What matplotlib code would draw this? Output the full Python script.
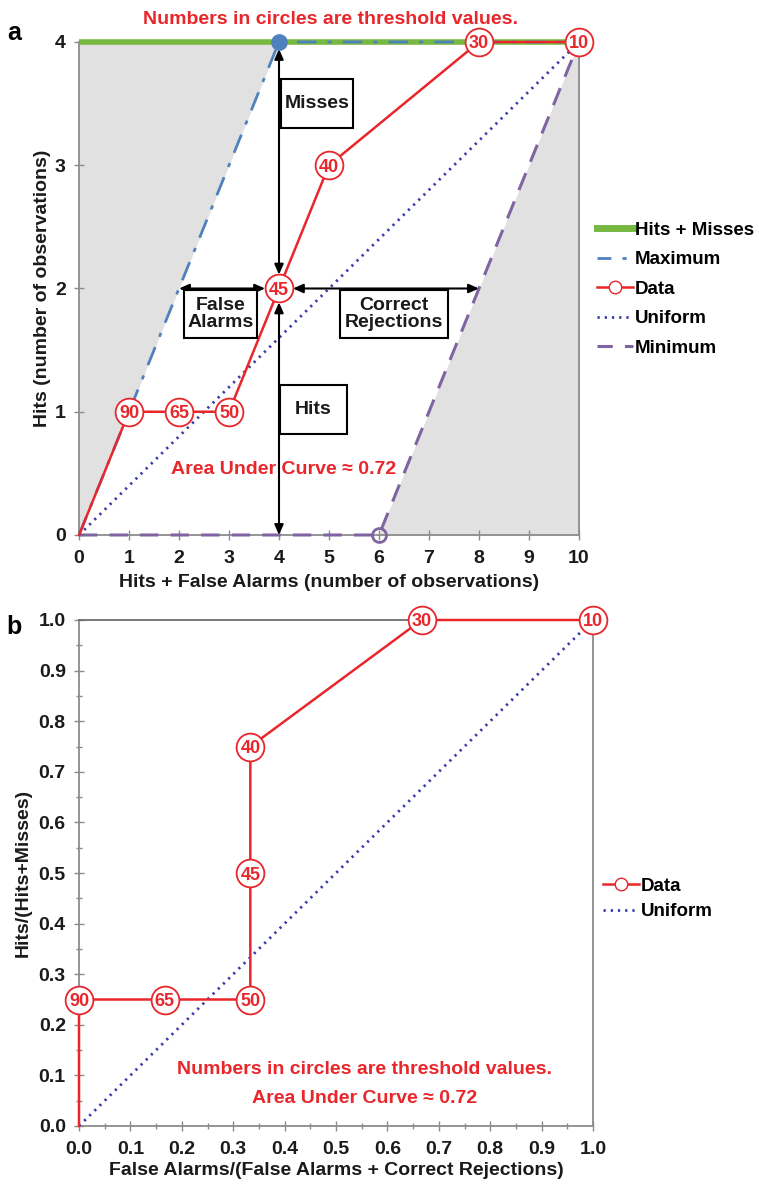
import matplotlib
matplotlib.use("Agg")
import matplotlib.pyplot as plt
from matplotlib.lines import Line2D
from matplotlib.patches import Rectangle
import numpy as np

plt.rcParams['font.family'] = ['Liberation Sans', 'DejaVu Sans']
plt.rcParams['font.weight'] = 'bold'

# ---------------- data ----------------
thresholds = [90, 65, 50, 45, 40, 30, 10]
hits = [1, 1, 1, 2, 3, 4, 4]
false_alarms = [0, 1, 2, 2, 2, 4, 6]
n_pos = 4          # hits + misses
n_neg = 6          # false alarms + correct rejections

max_x = [0, 4, 10]
max_y = [0, 4, 4]
min_x = [0, 6, 10]
min_y = [0, 0, 4]
uni_x = [0, 10]
uni_y = [0, 4]

top_xticks = list(range(0, 11))
top_yticks = [0, 1, 2, 3, 4]
bot_ticks = [round(0.1 * i, 1) for i in range(11)]

RED = '#E8262B'
GREEN = '#77B843'
BLUE = '#4F81BD'
NAVY = '#3A3AAA'
PURPLE = '#8064A2'
GRAYFILL = '#E1E1E1'
SPINE = '#8C8C8C'
TXT = '#1A1A1A'

FS = 14       # main text size
NUM_FS = 13   # numbers in circles
MS = 20       # circle marker size

W, H = 759, 1188
fig = plt.figure(figsize=(W / 100, H / 100), dpi=100)


def fx(px):
    return px / W


def fy(py):
    return 1 - py / H


# ---------------- panel a ----------------
ax = fig.add_axes([fx(79), fy(535), fx(579) - fx(79), fy(42) - fy(535)])
ax.set_xlim(0, 10)
ax.set_ylim(0, 4)

x_top = [h + f for h, f in zip(hits, false_alarms)]

ax.fill_between(max_x[:2], max_y[:2], [4, 4], color=GRAYFILL, lw=0, zorder=0)
ax.fill_between(min_x[1:], min_y[1:], [0, 0], color=GRAYFILL, lw=0, zorder=0)

ax.plot([0, 10], [n_pos, n_pos], color=GREEN, lw=4, zorder=2, clip_on=False,
        solid_capstyle='butt')
ax.plot(max_x, max_y, color=BLUE, lw=2, ls=(0, (7, 4, 1.5, 4)), zorder=3, clip_on=False)
ax.plot(min_x, min_y, color=PURPLE, lw=2.2, ls=(0, (6, 4)), zorder=3, clip_on=False)
ax.plot(uni_x, uni_y, color=NAVY, lw=2, ls=(0, (0.8, 1.8)), zorder=3)
ax.plot([0] + x_top, [0] + hits, color=RED, lw=1.8, zorder=4, clip_on=False)
ax.plot(x_top, hits, ls='none', marker='o', ms=MS, mfc='white', mec=RED, mew=1.3,
        zorder=5, clip_on=False)
for xv, yv, t in zip(x_top, hits, thresholds):
    ax.text(xv, yv, str(t), color=RED, fontsize=NUM_FS, fontweight='bold',
            ha='center', va='center_baseline', zorder=6)

ax.plot([4], [4], marker='o', ms=11, color=BLUE, zorder=6, clip_on=False)
ax.plot([6], [0], marker='o', ms=10, mfc='none', mec=PURPLE, mew=2, zorder=6, clip_on=False)

# arrows
arrow_kw = dict(arrowstyle='<|-|>,head_length=0.5,head_width=0.22', color='black',
                lw=1.5, mutation_scale=12)
ax.annotate('', xy=(4, 4), xytext=(4, 2),
            arrowprops=dict(**arrow_kw, shrinkA=10, shrinkB=5), zorder=4)
ax.annotate('', xy=(4, 0), xytext=(4, 2),
            arrowprops=dict(**arrow_kw, shrinkA=10, shrinkB=0), zorder=4)
ax.annotate('', xy=(2, 2), xytext=(4, 2),
            arrowprops=dict(**arrow_kw, shrinkA=10, shrinkB=0), zorder=4)
ax.annotate('', xy=(8, 2), xytext=(4, 2),
            arrowprops=dict(**arrow_kw, shrinkA=10, shrinkB=0), zorder=4)

boxes = [
    ('Misses', 4.04, 3.30, 5.48, 3.70),
    ('Hits', 4.02, 0.82, 5.36, 1.22),
    ('False\nAlarms', 2.10, 1.60, 3.56, 1.99),
    ('Correct\nRejections', 5.22, 1.60, 7.37, 1.99),
]
for label, x0, y0, x1, y1 in boxes:
    ax.add_patch(Rectangle((x0, y0), x1 - x0, y1 - y0, facecolor='white',
                           edgecolor='black', lw=1.5, zorder=7))
    ax.text((x0 + x1) / 2, (y0 + y1) / 2, label, ha='center', va='center',
            fontsize=FS, fontweight='bold', color=TXT, zorder=8, linespacing=1.0)

ax.text(4.1, 0.53, 'Area Under Curve \u2248 0.72', color=RED, fontsize=FS,
        fontweight='bold', ha='center', va='center', zorder=8)
ax.text(5.03, 4.18, 'Numbers in circles are threshold values.', color=RED,
        fontsize=FS, fontweight='bold', ha='center', va='center')

ax.set_xticks(top_xticks)
ax.set_yticks(top_yticks)
ax.tick_params(axis='x', direction='inout', length=7, width=1, color=SPINE,
               labelsize=FS, labelcolor=TXT, pad=7)
ax.tick_params(axis='y', direction='inout', length=7, width=1, color=SPINE,
               labelsize=FS, labelcolor=TXT, pad=6)
for lab in ax.get_xticklabels() + ax.get_yticklabels():
    lab.set_fontweight('bold')
for s in ['left', 'bottom', 'right']:
    ax.spines[s].set_color(SPINE)
    ax.spines[s].set_linewidth(1.3)
ax.spines['top'].set_visible(False)
ax.set_xlabel('Hits + False Alarms (number of observations)', fontsize=FS,
              fontweight='bold', color=TXT, labelpad=5)
ax.set_ylabel('Hits (number of observations)', fontsize=FS, fontweight='bold',
              color=TXT, labelpad=3)
fig.text(fx(14), fy(33), 'a', fontsize=18, fontweight='bold', ha='center', va='center')

handles_a = [
    Line2D([], [], color=GREEN, lw=5),
    Line2D([], [], color=BLUE, lw=2, ls=(0, (5, 4, 1.5, 4))),
    Line2D([], [], color=RED, lw=1.8, marker='o', ms=9, mfc='white', mec=RED),
    Line2D([], [], color=NAVY, lw=2, ls=(0, (0.8, 1.8))),
    Line2D([], [], color=PURPLE, lw=2.2, ls=(0, (5, 4))),
]
labels_a = ['Hits + Misses', 'Maximum', 'Data', 'Uniform', 'Minimum']
fig.legend(handles_a, labels_a, loc='center left', bbox_to_anchor=(fx(597), fy(289)),
           frameon=False, borderpad=0, borderaxespad=0, handlelength=1.9,
           handletextpad=0.12, labelspacing=0.66,
           prop=dict(family='Liberation Sans', weight='bold', size=13.5))

# ---------------- panel b ----------------
bx = fig.add_axes([fx(79), fy(1126), fx(593) - fx(79), fy(620) - fy(1126)])
bx.set_xlim(0, 1)
bx.set_ylim(0, 1)

fa_rate = [f / n_neg for f in false_alarms]
hit_rate = [h / n_pos for h in hits]

bx.plot([0, 1], [0, 1], color=NAVY, lw=2, ls=(0, (0.8, 1.8)), zorder=3)
bx.plot([0] + fa_rate, [0] + hit_rate, color=RED, lw=1.8, zorder=4, clip_on=False)
bx.plot(fa_rate, hit_rate, ls='none', marker='o', ms=MS, mfc='white', mec=RED, mew=1.3,
        zorder=5, clip_on=False)
for xv, yv, t in zip(fa_rate, hit_rate, thresholds):
    bx.text(xv, yv, str(t), color=RED, fontsize=NUM_FS, fontweight='bold',
            ha='center', va='center_baseline', zorder=6)

bx.text(0.555, 0.112, 'Numbers in circles are threshold values.', color=RED,
        fontsize=FS, fontweight='bold', ha='center', va='center')
bx.text(0.555, 0.054, 'Area Under Curve \u2248 0.72', color=RED,
        fontsize=FS, fontweight='bold', ha='center', va='center')

bx.set_xticks(bot_ticks)
bx.set_yticks(bot_ticks)
bx.set_xticks(np.arange(0.05, 1.0, 0.1), minor=True)
bx.set_yticks(np.arange(0.05, 1.0, 0.1), minor=True)
bx.set_xticklabels([f'{v:.1f}' for v in bot_ticks])
bx.set_yticklabels([f'{v:.1f}' for v in bot_ticks])
bx.tick_params(axis='x', which='major', direction='inout', length=7, width=1, color=SPINE,
               labelsize=FS, labelcolor=TXT, pad=7)
bx.tick_params(axis='y', which='major', direction='inout', length=7, width=1, color=SPINE,
               labelsize=FS, labelcolor=TXT, pad=6)
bx.tick_params(which='minor', direction='inout', length=5, width=1, color=SPINE)
for lab in bx.get_xticklabels() + bx.get_yticklabels():
    lab.set_fontweight('bold')
for s in ['left', 'bottom', 'right']:
    bx.spines[s].set_color(SPINE)
    bx.spines[s].set_linewidth(1.3)
bx.spines['top'].set_color('#6E6E6E')
bx.spines['top'].set_linewidth(1.3)
bx.set_xlabel('False Alarms/(False Alarms + Correct Rejections)', fontsize=FS,
              fontweight='bold', color=TXT, labelpad=3)
bx.set_ylabel('Hits/(Hits+Misses)', fontsize=FS, fontweight='bold', color=TXT,
              labelpad=5)
fig.text(fx(14), fy(627), 'b', fontsize=18, fontweight='bold', ha='center', va='center')

handles_b = [
    Line2D([], [], color=RED, lw=1.8, marker='o', ms=9, mfc='white', mec=RED),
    Line2D([], [], color=NAVY, lw=2, ls=(0, (0.8, 1.8))),
]
fig.legend(handles_b, ['Data', 'Uniform'], loc='center left',
           bbox_to_anchor=(fx(603), fy(899)), frameon=False, borderpad=0,
           borderaxespad=0, handlelength=1.9, handletextpad=0.12, labelspacing=0.45,
           prop=dict(family='Liberation Sans', weight='bold', size=13.5))

fig.savefig('out.png', dpi=100)
